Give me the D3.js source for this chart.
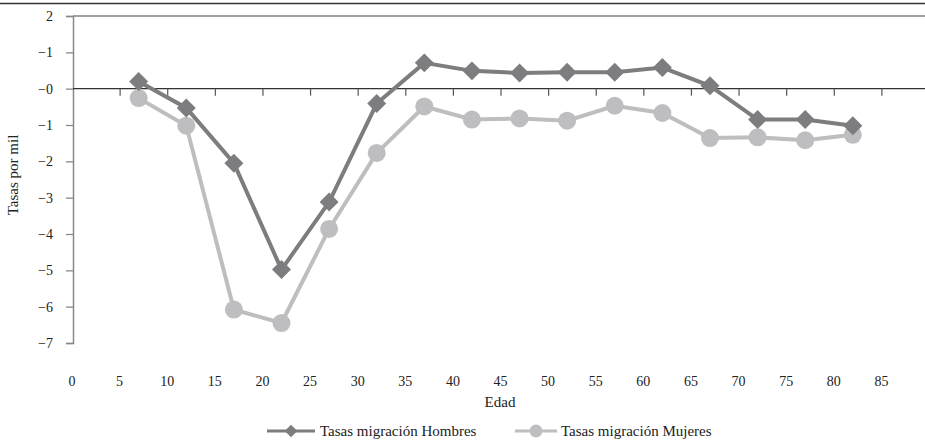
<!DOCTYPE html>
<html><head><meta charset="utf-8">
<script src="https://cdn.jsdelivr.net/npm/d3@7"></script>
<style>
body{margin:0;background:#fff;}
svg text{font-family:"Liberation Serif","DejaVu Serif",serif !important;fill:#222;}
</style></head><body>
<svg id="c" width="925" height="444"></svg>
<script>
const ages = [7,12,17,22,27,32,37,42,47,52,57,62,67,72,77,82];
const hombres = [0.2,-0.53,-2.05,-4.98,-3.12,-0.41,0.71,0.49,0.43,0.45,0.45,0.58,0.08,-0.85,-0.85,-1.02];
const mujeres = [-0.26,-1.02,-6.08,-6.45,-3.86,-1.77,-0.49,-0.85,-0.82,-0.88,-0.47,-0.67,-1.36,-1.34,-1.42,-1.27];
const xTicks = [0,5,10,15,20,25,30,35,40,45,50,55,60,65,70,75,80,85];
const yTicks = [2,1,0,-1,-2,-3,-4,-5,-6,-7];
const yTickLabels = ["2","−1","−0","−1","−2","−3","−4","−5","−6","−7"];
const seriesNames = ["Tasas migración Hombres","Tasas migración Mujeres"];
const colors = ["#7d7d80","#bebec1"];

const svg = d3.select("#c");
const x = d3.scaleLinear().domain([0,90]).range([72,929]);
const y = d3.scaleLinear().domain([2,-7]).range([16,343]);

// top rule
svg.append("line").attr("x1",0).attr("x2",925).attr("y1",3.5).attr("y2",3.5).attr("stroke","#333").attr("stroke-width",1.3);
// plot top border
svg.append("line").attr("x1",73).attr("x2",925).attr("y1",16).attr("y2",16).attr("stroke","#444").attr("stroke-width",1.2);

// y axis
const yAxis = d3.axisLeft(y).tickValues(yTicks).tickSize(7).tickPadding(13)
  .tickFormat((d,i)=>yTickLabels[i]);
const gy = svg.append("g").attr("transform","translate(73,0)").call(yAxis);
gy.select(".domain").attr("stroke","#888").attr("stroke-width",1.5);
gy.selectAll(".tick line").attr("stroke","#888").attr("stroke-width",1.3);
gy.selectAll("text").attr("font-size",14).attr("fill","#222");

// x axis at zero
const xAxis = d3.axisBottom(x).tickValues(xTicks.filter(d=>d>0)).tickSize(7).tickFormat("");
const gx = svg.append("g").attr("transform",`translate(0,${y(0)})`).call(xAxis);
gx.select(".domain").attr("d",`M73,0H925`).attr("stroke","#333").attr("stroke-width",1.3);
gx.selectAll(".tick line").attr("stroke","#555").attr("stroke-width",1.2);

// x tick labels at bottom
svg.append("g").selectAll("text").data(xTicks).join("text")
  .attr("x",d=>x(d)).attr("y",386).attr("text-anchor","middle").attr("font-size",14).text(d=>d);

// axis titles
svg.append("text").attr("x",500).attr("y",407).attr("text-anchor","middle").attr("font-size",15).text("Edad");
svg.append("text").attr("transform","translate(18,175) rotate(-90)").attr("text-anchor","middle").attr("font-size",15).text("Tasas por mil");

// lines
const line = d3.line().x((d,i)=>x(ages[i])).y(d=>y(d));

svg.append("path").datum(mujeres).attr("d",line).attr("fill","none").attr("stroke",colors[1]).attr("stroke-width",4);
svg.append("path").datum(hombres).attr("d",line).attr("fill","none").attr("stroke",colors[0]).attr("stroke-width",4);

svg.append("g").selectAll("circle").data(mujeres).join("circle")
  .attr("cx",(d,i)=>x(ages[i])).attr("cy",d=>y(d)).attr("r",9).attr("fill",colors[1]);
svg.append("g").selectAll("path").data(hombres).join("path")
  .attr("transform",(d,i)=>`translate(${x(ages[i])},${y(d)}) rotate(45)`)
  .attr("d",d3.symbol().type(d3.symbolSquare).size(180)()).attr("fill",colors[0]);

// legend
const lg = svg.append("g");
const ly = 431;
lg.append("line").attr("x1",267).attr("x2",315).attr("y1",ly).attr("y2",ly).attr("stroke",colors[0]).attr("stroke-width",3);
lg.append("path").attr("transform",`translate(291,${ly}) rotate(45)`).attr("d",d3.symbol().type(d3.symbolSquare).size(80)()).attr("fill",colors[0]);
lg.append("text").attr("x",320).attr("y",ly+5).attr("font-size",15).text(seriesNames[0]);
lg.append("line").attr("x1",515).attr("x2",557).attr("y1",ly).attr("y2",ly).attr("stroke",colors[1]).attr("stroke-width",3);
lg.append("circle").attr("cx",536).attr("cy",ly).attr("r",6.5).attr("fill",colors[1]);
lg.append("text").attr("x",561).attr("y",ly+5).attr("font-size",15).text(seriesNames[1]);
</script></body></html>
